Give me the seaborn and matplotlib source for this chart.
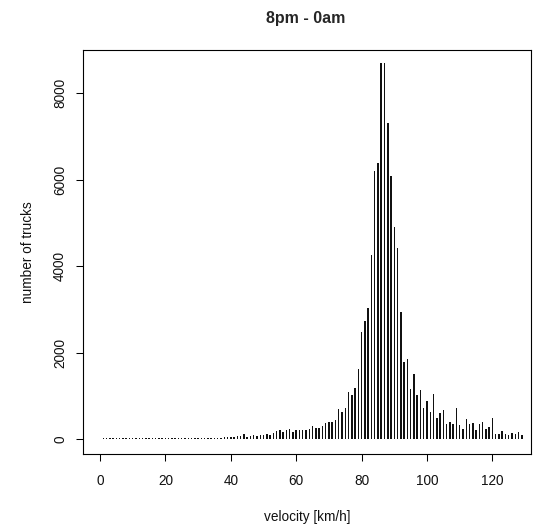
import numpy as np
import pandas as pd
import matplotlib
matplotlib.use("Agg")
import matplotlib.pyplot as plt
import seaborn as sns

# velocity classes (km/h), one bar per integer speed
velocity = np.arange(0, 130)

# truck counts, 0..129 km/h
counts_low = [10, 12, 14, 11, 13, 15, 14, 16, 15, 17,
              18, 16, 19, 18, 20, 19, 21, 20, 22, 21,
              23, 22, 24, 23, 25, 24, 26, 25, 27, 26,
              28, 27, 29, 30, 28, 31, 33, 32, 35, 40,
              55, 35, 60]
counts_mid = [76, 108, 46, 76, 92, 76, 92, 92, 123, 92,
              147, 185, 200, 154, 200, 231, 154, 200, 200, 200,
              200, 231, 309, 262, 262, 293, 370, 400, 400, 447,
              694, 632, 717, 1095, 1010, 1180, 1613, 2477, 2740, 3033]
counts_peak = [4260, 6200, 6390, 8710, 8710, 7308, 6088, 4907, 4421, 2940]
counts_high = [1775, 1852, 1150, 1505, 1010, 1127, 717, 880, 633, 1042,
               478, 610, 664, 340, 393, 340, 717, 316, 239, 455,
               340, 363, 208, 340, 393, 231, 285, 478, 116, 116,
               178, 116, 100, 146, 116, 155, 85]
counts = counts_low + counts_mid + counts_peak + counts_high

title = "8pm - 0am"
x_label = "velocity [km/h]"
y_label = "number of trucks"
x_ticks = [0, 20, 40, 60, 80, 100, 120]
y_ticks = [0, 2000, 4000, 6000, 8000]

df = pd.DataFrame({"velocity": velocity, "trucks": counts})

sns.set_style("ticks")
plt.rcParams["font.family"] = ["Liberation Sans", "DejaVu Sans"]

fig = plt.figure(figsize=(5.35, 5.25), dpi=100)
ax = fig.add_axes([83 / 535, 1 - 454 / 525, (531 - 83) / 535, (454 - 50) / 525])

sns.barplot(data=df, x="velocity", y="trucks", native_scale=True,
            width=0.45, color="#111111", saturation=1, linewidth=0, ax=ax)

ax.set_xlim(-5.2, 131.8)
ax.set_ylim(-348, 9005)
ax.set_xticks(x_ticks)
ax.set_xticklabels([str(t) for t in x_ticks])
ax.set_yticks(y_ticks)
ax.set_yticklabels([str(t) for t in y_ticks], rotation=90, va="center")

ax.tick_params(axis="both", direction="out", length=5, width=0.75,
               color="black", labelsize=9.8, labelcolor="#111111")
ax.tick_params(axis="x", pad=9.5)
ax.tick_params(axis="y", pad=6.5)

for s in ax.spines.values():
    s.set_visible(True)
    s.set_color("black")
    s.set_linewidth(0.8)

ax.set_xlabel(x_label, fontsize=9.8, labelpad=16, color="#111111")
ax.set_ylabel(y_label, fontsize=9.8, labelpad=13, color="#111111")
fig.text(0.572, 1 - 18 / 525, title, ha="center", va="center",
         fontsize=11.5, fontweight="bold")

ax.grid(False)
fig.savefig("out.png", dpi=100)
